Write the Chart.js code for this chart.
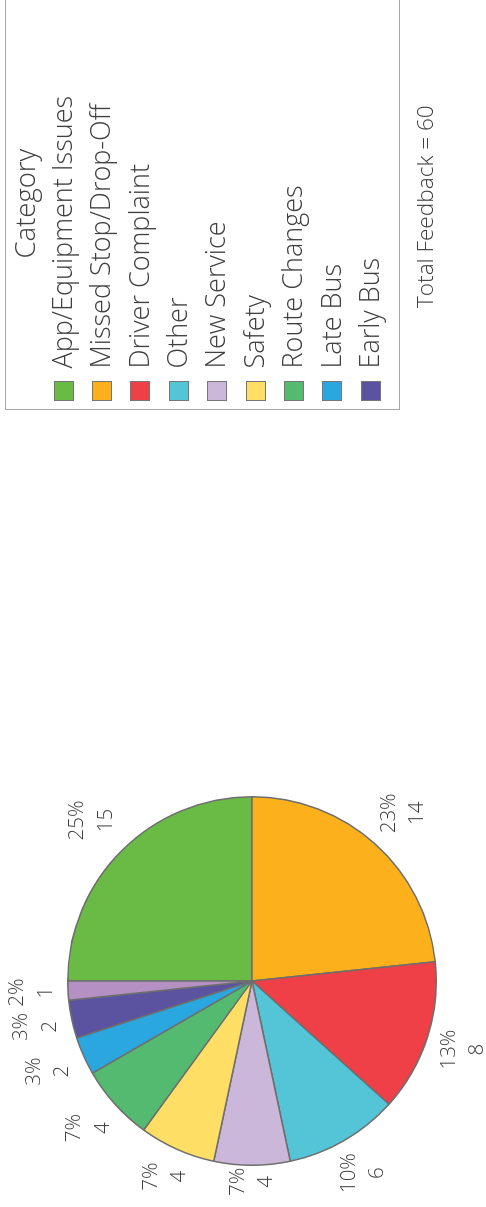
<!DOCTYPE html>
<html>
<head>
<meta charset="utf-8">
<script src="https://cdn.jsdelivr.net/npm/chart.js@4.4.1/dist/chart.umd.min.js"></script>
<style>
  html, body { margin: 0; padding: 0; background: #fff; overflow: hidden; }
  body { width: 486px; height: 1207px; position: relative; }
  /* the chart is laid out landscape, then turned a quarter to the left */
  #page {
    position: absolute; left: 0; top: 0;
    width: 1207px; height: 486px;
    transform-origin: 0 0;
    transform: translate(0, 1207px) rotate(-90deg);
    font-family: "Open Sans", sans-serif; font-weight: 300; color: #404040;
  }
  #pie { position: absolute; left: 0; top: 0; }
  #legend {
    position: absolute; left: 797px; top: 5px;
    width: 430px; height: 395px; box-sizing: border-box;
    border: 1.5px solid #a6a6a6; overflow: hidden;
  }
  #legend .title { position: absolute; left: 150.5px; top: 5.4px; font-size: 27.5px; line-height: 27.5px; white-space: nowrap; }
  #legend .sw { position: absolute; left: 7.5px; width: 20px; height: 20px; box-sizing: border-box; border: 1.5px solid #767676; }
  #legend .lbl { position: absolute; left: 40.5px; font-size: 27px; line-height: 27px; white-space: nowrap; }
  #total { position: absolute; left: 899px; top: 414px; font-size: 22.6px; line-height: 22.6px; white-space: nowrap; }
</style>
</head>
<body>
<div id="page">
  <canvas id="pie" width="1207" height="486"></canvas>
  <div id="legend"><div class="title">Category</div></div>
  <div id="total"></div>
</div>
<script>
// Feedback by category
var categories = ["App/Equipment Issues", "Missed Stop/Drop-Off", "Driver Complaint", "Other",
                  "New Service", "Safety", "Route Changes", "Late Bus", "Early Bus", "Compliment"];
var feedbackCounts = [15, 14, 8, 6, 4, 4, 4, 2, 2, 1];
var sliceColors = ["#6abb45", "#fbb01c", "#ef4047", "#54c4d7", "#cbb7d9",
                   "#fede65", "#53ba6f", "#29a7de", "#5b53a0", "#b490c3"];

var total = feedbackCounts.reduce(function (a, b) { return a + b; }, 0);

// percent + count just outside each slice
var outsideLabels = {
  id: 'outsideLabels',
  afterDatasetsDraw: function (chart) {
    var ctx = chart.ctx;
    var meta = chart.getDatasetMeta(0);
    var gap = 14.5, halfH = 22, lineGap = 14.2;
    ctx.save();
    ctx.font = '300 20.5px "Open Sans"';
    ctx.fillStyle = '#404040';
    ctx.textAlign = 'center';
    ctx.textBaseline = 'middle';
    meta.data.forEach(function (arc, i) {
      var v = feedbackCounts[i];
      var pct = Math.round(v / total * 100) + '%';
      var halfW = ctx.measureText(pct).width / 2;
      var mid = (arc.startAngle + arc.endAngle) / 2;
      var cx = Math.cos(mid), cy = Math.sin(mid);
      // push the text box out until its edge clears the rim
      var ext = Math.min(Math.abs(cx) > 1e-6 ? halfW / Math.abs(cx) : 1e9,
                         Math.abs(cy) > 1e-6 ? halfH / Math.abs(cy) : 1e9);
      var r = arc.outerRadius + gap + ext;
      var x = arc.x + cx * r;
      var y = arc.y + cy * r;
      x = Math.max(x, halfW + 11);
      ctx.fillText(pct, x, y - lineGap);
      ctx.fillText(String(v), x, y + lineGap);
    });
    ctx.restore();
  }
};

var ctx = document.getElementById("pie").getContext("2d");
var pieChart = new Chart(ctx, {
  type: 'pie',
  data: {
    labels: categories,
    datasets: [{
      data: feedbackCounts,
      backgroundColor: sliceColors,
      borderColor: '#6e6e6e',
      borderWidth: 1.5
    }]
  },
  options: {
    responsive: false,
    animation: false,
    layout: { padding: { left: 41, top: 67, right: 796, bottom: 49 } },
    plugins: {
      legend: { display: false },
      tooltip: { enabled: false }
    }
  },
  plugins: [outsideLabels]
});

// legend box, built from the same arrays; entries that do not fit are dropped
var legend = document.getElementById("legend");
var innerH = legend.clientHeight;
categories.forEach(function (name, i) {
  var top = 47.5 + 38.4 * i;
  if (top + 20 > innerH) return;
  var sw = document.createElement("div");
  sw.className = "sw";
  sw.style.top = top + "px";
  sw.style.background = sliceColors[i];
  legend.appendChild(sw);
  var lbl = document.createElement("div");
  lbl.className = "lbl";
  lbl.style.top = (41.8 + 38.4 * i) + "px";
  lbl.textContent = name;
  legend.appendChild(lbl);
});
document.getElementById("total").textContent = "Total Feedback = " + total;
</script>
</body>
</html>
